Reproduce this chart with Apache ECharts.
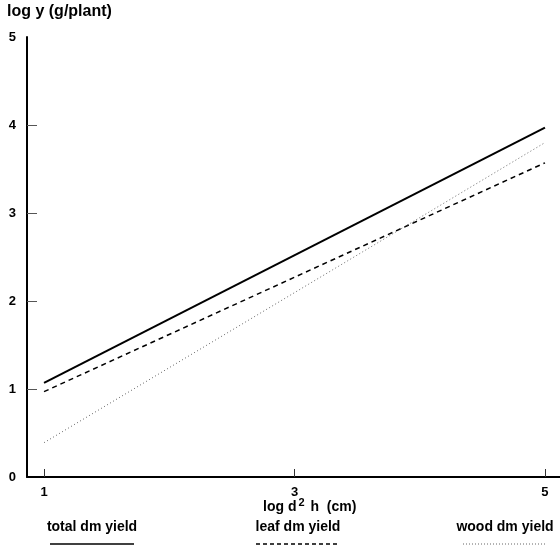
<!DOCTYPE html>
<html>
<head>
<meta charset="utf-8">
<script src="https://cdn.jsdelivr.net/npm/echarts@6/dist/echarts.min.js"></script>
<style>
  html, body { margin: 0; padding: 0; background: #fff; }
  #chart { width: 560px; height: 546px; }
</style>
</head>
<body>
<div id="chart"></div>
<script>
// log d^2 h values where the fitted lines are drawn
const xTicks = [1, 3, 5];
const yTicks = [0, 1, 2, 3, 4, 5];
const totalYield = [[1, 1.07], [5, 3.97]];
const leafYield = [[1, 0.97], [5, 3.57]];
const woodYield = [[1, 0.39], [5, 3.80]];
const seriesNames = ["total dm yield", "leaf dm yield", "wood dm yield"];

const font = "Liberation Sans";
const chart = echarts.init(document.getElementById("chart"));

const legendItem = (name, cx, dash, color, width) => [
    {
        type: "text",
        x: cx,
        y: 520,
        style: { text: name, font: "bold 14px " + font, fill: "#000", textAlign: "center" },
    },
    {
        type: "line",
        shape: { x1: cx - 42, y1: 544, x2: cx + 42, y2: 544 },
        style: { stroke: color, lineWidth: width, lineDash: dash },
    },
];

chart.setOption({
    animation: false,
    backgroundColor: "#fff",
    grid: { left: 27, right: 0, top: 37, bottom: 69 },
    xAxis: {
        type: "value",
        min: 0.864,
        max: 5.12,
        splitLine: { show: false },
        axisLine: { lineStyle: { color: "#000", width: 2 } },
        axisTick: { inside: true, length: 8, customValues: xTicks, lineStyle: { color: "#333" } },
        axisLabel: {
            customValues: xTicks,
            margin: 9,
            color: "#000",
            fontFamily: font,
            fontWeight: "bold",
            fontSize: 13,
        },
    },
    yAxis: {
        type: "value",
        min: 0,
        max: 5,
        interval: 1,
        splitLine: { show: false },
        axisLine: { lineStyle: { color: "#000", width: 2 } },
        axisTick: { inside: true, length: 10, customValues: [1, 2, 3, 4], lineStyle: { color: "#555" } },
        axisLabel: {
            customValues: yTicks,
            margin: 11,
            color: "#000",
            fontFamily: font,
            fontWeight: "bold",
            fontSize: 13,
        },
    },
    series: [
        {
            name: seriesNames[0],
            type: "line",
            data: totalYield,
            symbol: "none",
            lineStyle: { color: "#000", width: 2 },
        },
        {
            name: seriesNames[1],
            type: "line",
            data: leafYield,
            symbol: "none",
            lineStyle: { color: "#000", width: 1.5, type: [5, 4] },
        },
        {
            name: seriesNames[2],
            type: "line",
            data: woodYield,
            symbol: "none",
            lineStyle: { color: "#666", width: 1, type: [1, 2.5] },
        },
    ],
    graphic: [
        {
            type: "text",
            left: 7,
            top: 4,
            style: { text: "log y (g/plant)", font: "bold 16px " + font, fill: "#000" },
        },
        {
            type: "text",
            left: 263,
            top: 497,
            style: {
                text: "log d{sup|2} h  (cm)",
                font: "bold 14px " + font,
                fill: "#000",
                rich: {
                    sup: { font: "bold 11px " + font, fill: "#000", verticalAlign: "top", padding: [0, 2, 10, 2] },
                },
            },
        },
        ...legendItem(seriesNames[0], 92, null, "#000", 1.5),
        ...legendItem(seriesNames[1], 298, [4, 3], "#000", 1.5),
        ...legendItem(seriesNames[2], 505, [1, 2], "#666", 1),
    ],
});
</script>
</body>
</html>
